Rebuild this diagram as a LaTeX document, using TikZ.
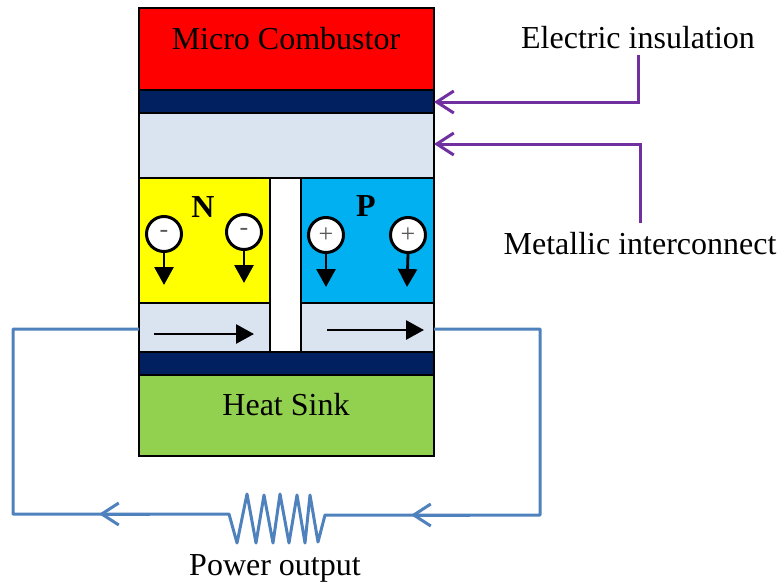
\documentclass[tikz,border=0pt]{standalone}
\usepackage{fontspec}
\setmainfont{Liberation Serif}
\usetikzlibrary{arrows.meta}
\definecolor{navyb}{HTML}{002060}
\definecolor{paleb}{HTML}{DAE3F0}
\definecolor{cyanb}{HTML}{00B0F0}
\definecolor{greenb}{HTML}{92D050}
\definecolor{yellowb}{RGB}{255,255,0}
\definecolor{redb}{RGB}{255,0,0}
\definecolor{purp}{HTML}{7030A0}
\definecolor{wire}{HTML}{4F81BD}
\tikzset{
  slab/.style n args={5}{draw=black,line width=2.6pt,fill=#5,minimum width=#3*1pt,minimum height=#4*1pt,inner sep=0pt,anchor=north west,at={(#1-1.3,#2-1.3)}},
  label text/.style={font=\fontsize{32}{34}\selectfont,inner sep=0pt},
  lead/.style={draw=purp,line width=3pt,line join=miter,-{Straight Barb[length=17pt,width=22pt,line width=3pt]}},
  wireline/.style={draw=wire,line width=3pt,line join=round},
  chev/.style={draw=wire,line width=3pt,-{Straight Barb[length=17pt,width=22pt,line width=3pt]}},
  carrier/.style={circle,draw=black,fill=white,line width=3pt,minimum size=35pt,inner sep=0pt,font=\fontsize{26}{26}\selectfont,text=black!65},
  flow/.style={draw=black,line width=2.8pt,-{Triangle[length=18pt,width=19pt]}}
}
\begin{document}
\begin{tikzpicture}[x=1pt,y=-1pt]
\useasboundingbox (0,0) rectangle (781,586);
\node[slab={139}{8}{295}{82}{redb}] (comb) {};
\node[slab={139}{90}{295}{23}{navyb}] (ins) {};
\node[slab={139}{113}{295}{65}{paleb}] (metal) {};
\node[slab={139}{178}{131}{125}{yellowb}] (nleg) {};
\node[slab={301}{178}{133}{125}{cyanb}] (pleg) {};
\node[slab={139}{303}{131}{49}{paleb}] (nbase) {};
\node[slab={301}{303}{133}{49}{paleb}] (pbase) {};
\node[slab={270}{178}{31}{174}{white}] (gap) {};
\node[slab={139}{352}{295}{23}{navyb}] (insb) {};
\node[slab={139}{375}{295}{81}{greenb}] (sink) {};

\node[label text] (tcomb) at (286,39) {Micro Combustor};
\node[label text] (tsink) at (286,405) {Heat Sink};
\node[label text] (tei) at (638,38) {Electric insulation};
\node[label text] (tmi) at (640,244) {Metallic interconnect};
\node[label text] (tpo) at (275,568) {Power output};
\node[label text,font=\fontsize{32}{34}\selectfont\bfseries] (tn) at (203,207) {N};
\node[label text,font=\fontsize{32}{34}\selectfont\bfseries] (tp) at (366,206) {P};

\node[carrier] (c1) at (164,234) {\raisebox{-3pt}{-}};
\node[carrier] (c2) at (244,232) {\raisebox{-3pt}{-}};
\node[carrier] (c3) at (326,235) {\raisebox{-4pt}{+}};
\node[carrier] (c4) at (408,235) {\raisebox{-4pt}{+}};
\coordinate (c1e) at (164,285);
\coordinate (c2e) at (244,283);
\coordinate (c3e) at (326,287);
\coordinate (c4e) at (407,287);
\draw[flow] (c1) -- (c1e);
\draw[flow] (c2) -- (c2e);
\draw[flow] (c3) -- (c3e);
\draw[flow] (c4.south) -- (c4e);
\coordinate (f1s) at (154,334);
\coordinate (f1e) at (254,334);
\coordinate (f2s) at (327,330);
\coordinate (f2e) at (424,330);
\draw[flow] (f1s) -- (f1e);
\draw[flow] (f2s) -- (f2e);

\coordinate (ei1) at (638,55);
\coordinate (ei2) at (638,102);
\coordinate (ins tip) at (434,102);
\draw[lead] (ei1) -- (ei2) -- (ins tip);
\coordinate (mi1) at (640,223);
\coordinate (mi2) at (640,144);
\coordinate (metal tip) at (434,144);
\draw[lead] (mi1) -- (mi2) -- (metal tip);

\coordinate (nout) at (139,329);
\coordinate (pout) at (434,329);
\coordinate (la) at (13,329);
\coordinate (lb) at (13,514);
\coordinate (ra) at (540,329);
\coordinate (rb) at (540,515);
\coordinate (r1) at (229,514);
\coordinate (r2) at (325,515);
\draw[wireline] (nout) -- (la) -- (lb) -- (r1) -- (237,543) -- (247,494) -- (256,543) -- (264,495) -- (273,543) -- (280,494) -- (289,543) -- (297,495) -- (305,543) -- (310,495) -- (318,542) -- (r2) -- (rb) -- (ra) -- (pout);
\coordinate (ch1a) at (150,514);
\coordinate (ch1b) at (99,514);
\coordinate (ch2a) at (470,515);
\coordinate (ch2b) at (411,515);
\draw[chev] (ch1a) -- (ch1b);
\draw[chev] (ch2a) -- (ch2b);
\end{tikzpicture}
\end{document}
